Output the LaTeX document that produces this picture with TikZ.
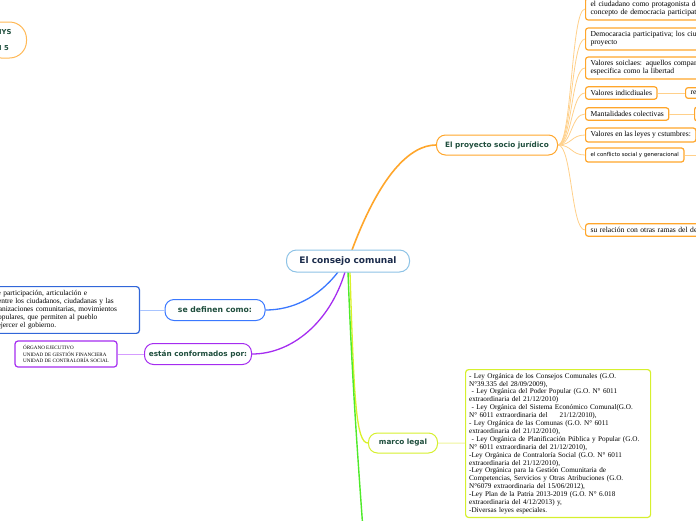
\documentclass[tikz,border=0pt]{standalone}
\usepackage{fontspec}
\setmainfont{Liberation Serif}
\newfontfamily\labelfont{DejaVu Sans}
\usetikzlibrary{positioning}
\definecolor{nodegreen}{HTML}{1F4E3D}
\definecolor{navy}{HTML}{1B2B4B}
\definecolor{centerblue}{HTML}{8EC3E6}
\definecolor{orangebr}{HTML}{FFA62B}
\definecolor{orangeln}{HTML}{FFD08A}
\definecolor{bluebr}{HTML}{3A78FF}
\definecolor{blueln}{HTML}{A8C4FF}
\definecolor{purplebr}{HTML}{A52CF0}
\definecolor{purpleln}{HTML}{D59CFF}
\definecolor{limebr}{HTML}{D6F02E}
\definecolor{limeln}{HTML}{EEF59A}
\definecolor{greenbr}{HTML}{4FEA2A}

\begin{document}
\begin{tikzpicture}[x=1pt,y=-1pt,
    branch/.style={draw,rounded corners=9pt,line width=1pt,fill=white,minimum height=20pt,
      font=\labelfont\bfseries\fontsize{7.3}{8}\selectfont,text=nodegreen},
    leaf/.style={draw=orangebr,rounded corners=2.5pt,line width=1.2pt,fill=white,anchor=west,
      inner xsep=5pt,inner ysep=3.5pt,align=left,font=\fontsize{7.6}{8}\selectfont},
    twig/.style={orangeln,line width=.8pt}]
  \useasboundingbox (0,0) rectangle (696,520);
  \clip (0,0) rectangle (696,520);

  % branches
  \node[branch,draw=orangebr,minimum width=121pt] (proyecto) at (497,145) {El proyecto socio jurídico};
  \node[branch,draw=bluebr,minimum width=100pt,minimum height=21pt,
    font=\labelfont\bfseries\fontsize{7.7}{8}\selectfont] (definen) at (215,310) {se definen como:};
  \node[branch,draw=purplebr,minimum width=107pt,minimum height=21pt] (conform) at (198,354) {están conformados por:};
  \node[branch,draw=limebr,minimum width=69pt] (marco) at (403,443) {marco legal};
  \coordinate (below) at (363,530);

  % node cut by the left edge
  \node[draw=orangebr!80,rounded corners=17pt,line width=1pt,anchor=east,minimum height=36pt,
    inner xsep=15pt,align=left,text=nodegreen,font=\labelfont\bfseries\fontsize{6.8}{16}\selectfont]
    (topleft) at (27,40) {IYS\\I 5};

  \draw[orangebr,line width=1.6pt] (352,250) .. controls (380,175) and (410,145) .. (proyecto.west);
  \draw[bluebr,line width=1.3pt] (338,272) .. controls (318,298) and (292,310) .. (definen.east);
  \draw[purplebr,line width=1.3pt] (345,272) .. controls (330,322) and (292,354) .. (conform.east);
  \draw[limebr!90!yellow,line width=1.3pt] (350,272) .. controls (354,400) and (356,443) .. (marco.west);
  \draw[greenbr,line width=1.4pt] (348,272) .. controls (352,380) and (358,460) .. (below);

  % centre
  \node[draw=centerblue,fill=white,rounded corners=10pt,line width=1pt,minimum width=123pt,
    minimum height=22pt,text=navy,font=\labelfont\bfseries\fontsize{9}{10}\selectfont]
    (central) at (348,261) {El consejo comunal};

  % children of the socio juridical project
  \node[leaf,text width=160pt] (ciudadano) at (585,9) {el ciudadano como protagonista del\\concepto de democracia participativa};
  \node[leaf,text width=160pt] (democracia) at (585,39) {Democaracia participativa; los ciudadanos\\proyecto};
  \node[leaf,text width=160pt] (sociales) at (585,68) {Valores soiclaes: aquellos compartidos\\especifica como la libertad};
  \node[leaf] (individuales) at (585,93) {Valores indicdiuales};
  \node[leaf] (colectivas) at (585,114) {Mantalidades colectivas};
  \node[leaf] (leyes) at (585,135) {Valores en las leyes y cstumbres:};
  \node[leaf,font=\labelfont\fontsize{5.4}{6}\selectfont,minimum height=14pt] (conflicto) at (585,155) {el conflicto social y generacional};
  \node[leaf,text width=160pt] (ramas) at (585,230) {su relación con otras ramas del derecho};
  \node[leaf,text width=40pt] (re) at (685,93) {re};
  \node[leaf,minimum width=30pt,minimum height=14pt] (colectivas2) at (694,114) {};
  \coordinate (conflicto2) at (705,155);

  \foreach \child in {ciudadano,democracia,sociales,individuales,colectivas,leyes,conflicto,ramas}
    \draw[twig] (proyecto.east) .. controls +(14,0) and +(-14,0) .. (\child.west);
  \draw[twig] (individuales) -- (re);
  \draw[twig] (colectivas) -- (colectivas2);
  \draw[twig] (conflicto) -- (conflicto2);

  % definition
  \node[draw=bluebr!85!black,rounded corners=3pt,line width=1.2pt,anchor=east,text width=173pt,
    inner sep=4pt,align=left,font=\fontsize{7.4}{8}\selectfont] (definicion) at (140,310)
    {instancias de participación, articulación e\\integración entre los ciudadanos, ciudadanas y las\\diversas organizaciones comunitarias, movimientos\\sociales y populares, que permiten al pueblo\\organizado ejercer el gobierno.};
  \draw[blueln,line width=1pt] (definen) -- (definicion);

  % units
  \node[draw=purplebr,rounded corners=3pt,line width=1.2pt,minimum width=102pt,minimum height=26pt,
    inner sep=3pt,align=left,font=\fontsize{5.1}{6.5}\selectfont] (unidades) at (66,354)
    {ÓRGANO EJECUTIVO\\UNIDAD DE GESTIÓN FINANCIERA\\UNIDAD DE CONTRALORÍA SOCIAL};
  \draw[purpleln,line width=1pt] (conform) -- (unidades);

  % laws
  \node[draw=limebr,rounded corners=3pt,line width=1.2pt,anchor=north west,text width=178pt,
    inner sep=3.5pt,align=left,font=\fontsize{7.2}{7.9}\selectfont] (leyes) at (465,369)
    {- Ley Orgánica de los Consejos Comunales (G.O.\\N°39.335 del 28/09/2009),\\
     \ - Ley Orgánica del Poder Popular (G.O. N° 6011\\extraordinaria del 21/12/2010)\\
     \ - Ley Orgánica del Sistema Económico Comunal(G.O.\\N° 6011 extraordinaria del \ \ \ \ 21/12/2010),\\
     - Ley Orgánica de las Comunas (G.O. N° 6011\\extraordinaria del 21/12/2010),\\
     \ - Ley Orgánica de Planificación Pública y Popular (G.O.\\N° 6011 extraordinaria del 21/12/2010),\\
     -Ley Orgánica de Contraloría Social (G.O. N° 6011\\extraordinaria del 21/12/2010),\\
     -Ley Orgánica para la Gestión Comunitaria de\\Competencias, Servicios y Otras Atribuciones (G.O.\\
     N°6079 extraordinaria del 15/06/2012),\\-Ley Plan de la Patria 2013-2019 (G.O. N° 6.018\\
     extraordinaria del 4/12/2013) y,\\-Diversas leyes especiales.};
  \draw[limeln,line width=1pt] (marco) -- (leyes);
\end{tikzpicture}
\end{document}
